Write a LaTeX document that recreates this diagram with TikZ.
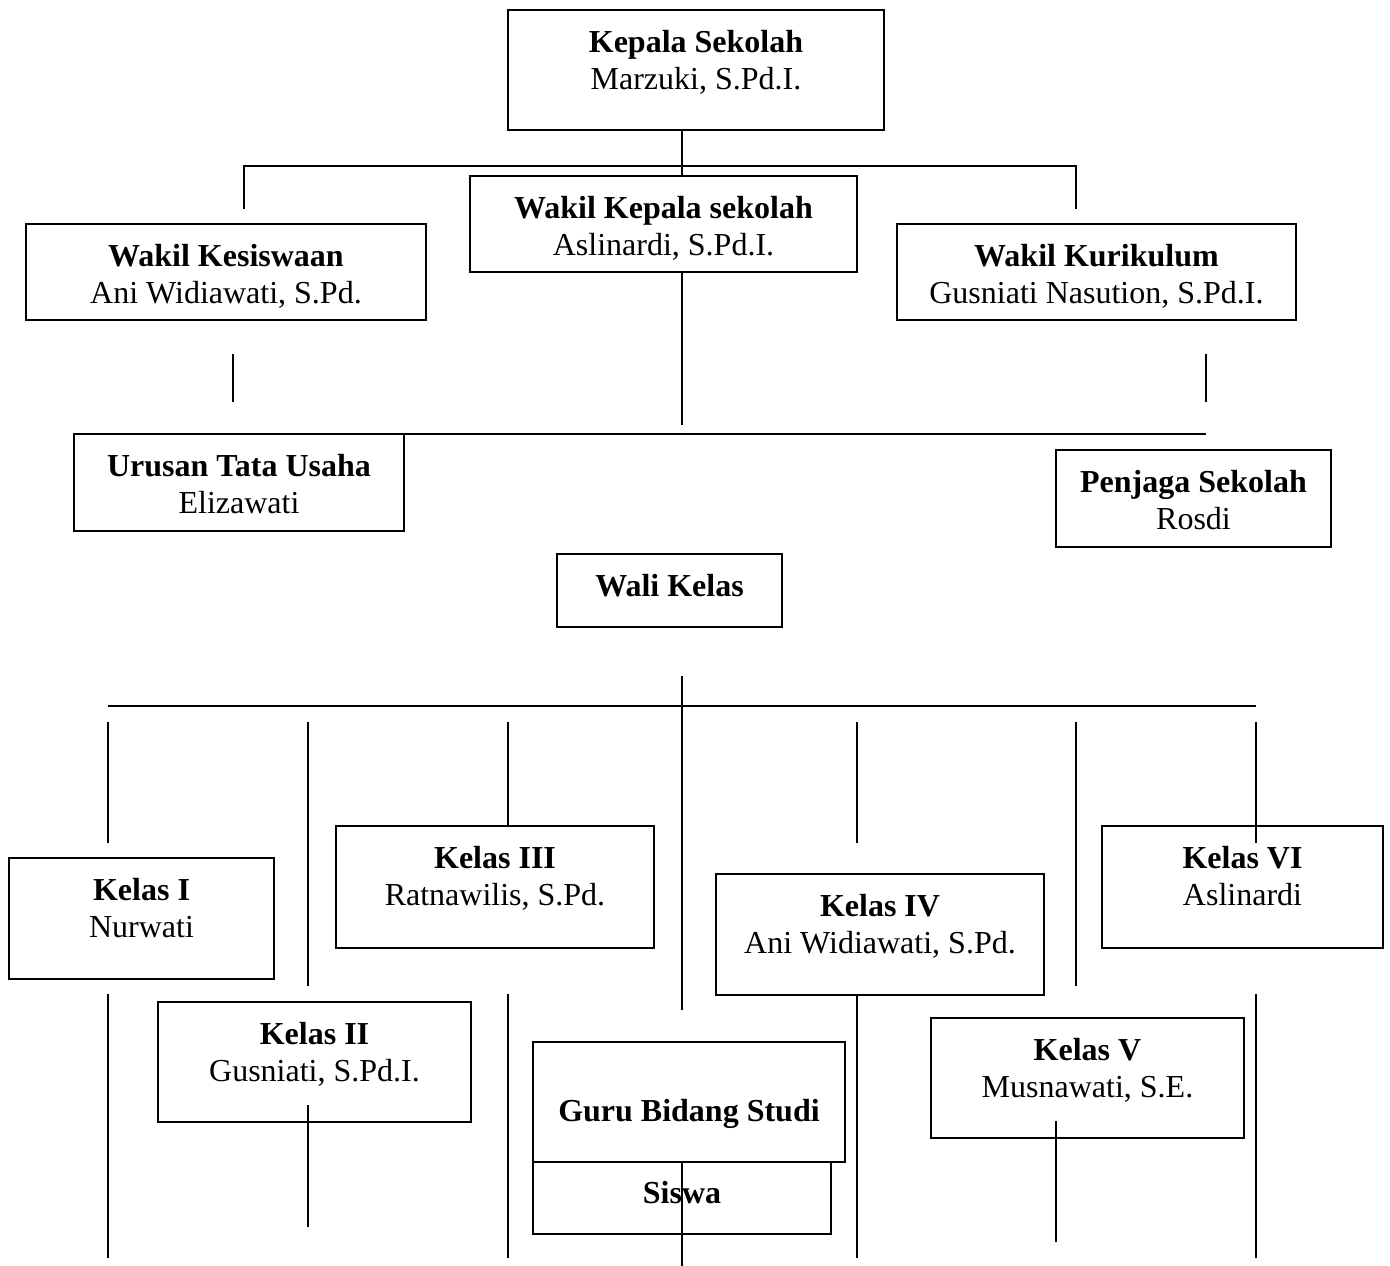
\documentclass[tikz,border=0pt]{standalone}
\usepackage{fontspec}
\setmainfont{Liberation Serif}
\usepackage{tikz}

\begin{document}
\begin{tikzpicture}[x=1pt,y=-1pt,
    kotak/.style={rectangle,draw,line width=1.5pt,inner sep=0pt},
    judul/.style={font=\fontsize{32pt}{37pt}\selectfont\bfseries,anchor=base,inner sep=0pt},
    nama/.style={font=\fontsize{32pt}{37pt}\selectfont,anchor=base,inner sep=0pt},
    garis/.style={line width=1.3pt}]
    \useasboundingbox (0,0) rectangle (1390,1266);

    % Kepala Sekolah
    \node[kotak,minimum width=376pt,minimum height=120pt] (kepsek) at (696,70) {};
    \node[judul] (kepsekJ) at ([yshift=-43pt]kepsek.north) {Kepala Sekolah};
    \node[nama] (kepsekN) at ([yshift=-80pt]kepsek.north) {Marzuki, S.Pd.I.};

    % Wakil
    \node[kotak,minimum width=387pt,minimum height=96pt] (wakasek) at (663.5,224) {};
    \node[judul] (wakasekJ) at ([yshift=-43pt]wakasek.north) {Wakil Kepala sekolah};
    \node[nama] (wakasekN) at ([yshift=-80pt]wakasek.north) {Aslinardi, S.Pd.I.};

    \node[kotak,minimum width=400pt,minimum height=96pt] (kesiswaan) at (226,272) {};
    \node[judul] (kesiswaanJ) at ([yshift=-43pt]kesiswaan.north) {Wakil Kesiswaan};
    \node[nama] (kesiswaanN) at ([yshift=-80pt]kesiswaan.north) {Ani Widiawati, S.Pd.};

    \node[kotak,minimum width=399pt,minimum height=96pt] (kurikulum) at (1096.5,272) {};
    \node[judul] (kurikulumJ) at ([yshift=-43pt]kurikulum.north) {Wakil Kurikulum};
    \node[nama] (kurikulumN) at ([yshift=-80pt]kurikulum.north) {Gusniati Nasution, S.Pd.I.};

    % Tata Usaha dan Penjaga
    \node[kotak,minimum width=330pt,minimum height=97pt] (tu) at (239,482.5) {};
    \node[judul] (tuJ) at ([yshift=-43pt]tu.north) {Urusan Tata Usaha};
    \node[nama] (tuN) at ([yshift=-80pt]tu.north) {Elizawati};

    \node[kotak,minimum width=275pt,minimum height=97pt] (penjaga) at (1193.5,498.5) {};
    \node[judul] (penjagaJ) at ([yshift=-43pt]penjaga.north) {Penjaga Sekolah};
    \node[nama] (penjagaN) at ([yshift=-80pt]penjaga.north) {Rosdi};

    % Wali Kelas
    \node[kotak,minimum width=225pt,minimum height=73pt] (walikelas) at (669.5,590.5) {};
    \node[judul] (walikelasJ) at ([yshift=-43pt]walikelas.north) {Wali Kelas};

    % Kelas
    \node[kotak,minimum width=265pt,minimum height=121pt] (kelas1) at (141.5,918.5) {};
    \node[judul] (kelas1J) at ([yshift=-43pt]kelas1.north) {Kelas I};
    \node[nama] (kelas1N) at ([yshift=-80pt]kelas1.north) {Nurwati};

    \node[kotak,minimum width=313pt,minimum height=120pt] (kelas2) at (314.5,1062) {};
    \node[judul] (kelas2J) at ([yshift=-43pt]kelas2.north) {Kelas II};
    \node[nama] (kelas2N) at ([yshift=-80pt]kelas2.north) {Gusniati, S.Pd.I.};

    \node[kotak,minimum width=318pt,minimum height=122pt] (kelas3) at (495,887) {};
    \node[judul] (kelas3J) at ([yshift=-43pt]kelas3.north) {Kelas III};
    \node[nama] (kelas3N) at ([yshift=-80pt]kelas3.north) {Ratnawilis, S.Pd.};

    \node[kotak,minimum width=328pt,minimum height=121pt] (kelas4) at (880,934.5) {};
    \node[judul] (kelas4J) at ([yshift=-43pt]kelas4.north) {Kelas IV};
    \node[nama] (kelas4N) at ([yshift=-80pt]kelas4.north) {Ani Widiawati, S.Pd.};

    \node[kotak,minimum width=313pt,minimum height=120pt] (kelas5) at (1087.5,1078) {};
    \node[judul] (kelas5J) at ([yshift=-43pt]kelas5.north) {Kelas V};
    \node[nama] (kelas5N) at ([yshift=-80pt]kelas5.north) {Musnawati, S.E.};

    \node[kotak,minimum width=281pt,minimum height=122pt] (kelas6) at (1242.5,887) {};
    \node[judul] (kelas6J) at ([yshift=-43pt]kelas6.north) {Kelas VI};
    \node[nama] (kelas6N) at ([yshift=-80pt]kelas6.north) {Aslinardi};

    % Guru Bidang Studi dan Siswa
    \node[kotak,minimum width=312pt,minimum height=120pt] (guru) at (689,1102) {};
    \node[judul] (guruJ) at ([yshift=-80pt]guru.north) {Guru Bidang Studi};
    \node[kotak,minimum width=298pt,minimum height=72pt] (siswa) at (682,1198) {};
    \node[judul] (siswaJ) at ([yshift=-42pt]siswa.north) {Siswa};

    % Garis atas
    \coordinate (atas) at (682,166);
    \draw[garis] (kepsek.south -| atas) -- (wakasek.north -| atas);
    \draw[garis] (244,209) -- (244,166) -- (1076,166) -- (1076,209);
    \draw[garis] (wakasek.south -| atas) -- (682,425);
    \draw[garis] (233,354) -- (233,402);
    \draw[garis] (1206,354) -- (1206,402);
    \draw[garis] (233,434) -- (1206,434);

    % Garis bawah
    \coordinate (tengah) at (682,706);
    \draw[garis] (682,676) -- (682,1010);
    \draw[garis] (108,706) -- (1256,706);
    \draw[garis] (108,722) -- (108,843);
    \draw[garis] (308,722) -- (308,986);
    \draw[garis] (508,722) -- (kelas3.north -| 508,0);
    \draw[garis] (857,722) -- (857,843);
    \draw[garis] (1076,722) -- (1076,986);
    \draw[garis] (1256,722) -- (1256,843);

    \draw[garis] (108,994) -- (108,1258);
    \draw[garis] (308,1105) -- (308,1227);
    \draw[garis] (508,994) -- (508,1258);
    \draw[garis] (siswa.north -| tengah) -- (682,1266);
    \draw[garis] (kelas4.south -| 857,0) -- (857,1258);
    \draw[garis] (1056,1121) -- (1056,1242);
    \draw[garis] (1256,994) -- (1256,1258);
\end{tikzpicture}
\end{document}
